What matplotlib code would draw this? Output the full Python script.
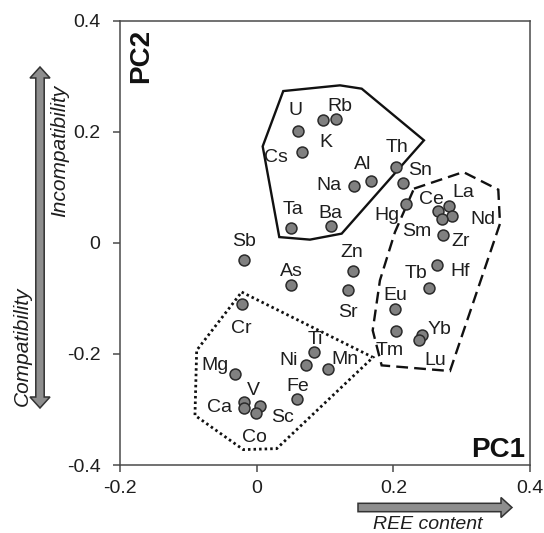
import matplotlib
matplotlib.use("Agg")
import matplotlib.pyplot as plt
from matplotlib.patches import Polygon

plt.rcParams['font.family'] = ['Liberation Sans', 'DejaVu Sans']

# ---------------- data ----------------
elements = ["U", "Rb", "K", "Cs", "Ta", "Ba", "Th", "Al", "Na", "Sn", "Hg",
            "Ce", "La", "Nd", "Sm", "Zr", "Zn", "Sr", "As", "Hf", "Tb", "Eu",
            "Tm", "Yb", "Lu", "Ti", "Ni", "Mn", "Fe", "Sb", "Cr", "Mg", "V",
            "Ca", "Sc", "Co"]
pc1 = [0.0600, 0.1161, 0.0966, 0.0667, 0.0502, 0.1084, 0.2039, 0.1668, 0.1424,
       0.2137, 0.2181, 0.2658, 0.2819, 0.2863, 0.2712, 0.2731, 0.1405, 0.1341,
       0.0505, 0.2643, 0.2526, 0.2024, 0.2034, 0.2415, 0.2375, 0.0841, 0.0717,
       0.1039, 0.0594, -0.0181, -0.0211, -0.0318, -0.0186, -0.0186, 0.0048,
       -0.0015]
pc2 = [0.2013, 0.2236, 0.2206, 0.1635, 0.0266, 0.0297, 0.1365, 0.1113, 0.1023,
       0.1077, 0.0693, 0.0567, 0.0657, 0.0483, 0.0436, 0.0135, -0.0508, -0.0855,
       -0.0751, -0.0400, -0.0807, -0.1185, -0.1588, -0.1665, -0.1743, -0.1972,
       -0.2191, -0.2265, -0.2818, -0.0315, -0.1107, -0.2368, -0.2866, -0.2974,
       -0.2938, -0.3064]

# group outlines (PC1, PC2)
incompatible_x = [0.0389, 0.1219, 0.1537, 0.2448, 0.1244, 0.0780, 0.0331, 0.0088]
incompatible_y = [0.2733, 0.2836, 0.2776, 0.1846, 0.0166, 0.0058, 0.0104, 0.1737]
ree_x = [0.2302, 0.3024, 0.3536, 0.3561, 0.2829, 0.1829, 0.1698, 0.1804, 0.2024]
ree_y = [0.0976, 0.1275, 0.0958, 0.0346, -0.2308, -0.2206, -0.1575, -0.0675, 0.0194]
compatible_x = [-0.0220, 0.1702, 0.0293, -0.0196, -0.0903, -0.0878]
compatible_y = [-0.0886, -0.2062, -0.3705, -0.3723, -0.3106, -0.1936]

ticks = [-0.4, -0.2, 0, 0.2, 0.4]
xticks = [-0.2, 0, 0.2, 0.4]
tick_labels = {-0.4: "-0.4", -0.2: "-0.2", 0: "0", 0.2: "0.2", 0.4: "0.4"}

# label offsets in pixels (centre of label relative to the dot, y up)
label_offsets = {
    "U": (-2, 23), "Rb": (4, 15), "K": (3, -20), "Cs": (-26, -3),
    "Ta": (2, 21), "Ba": (0, 15), "Th": (1, 22), "Al": (-8, 19),
    "Na": (-25, 3), "Sn": (17, 15), "Hg": (-19, -9), "Ce": (-7, 14),
    "La": (14, 16), "Nd": (31, -1), "Sm": (-25, -10), "Zr": (17, -4),
    "Zn": (-1, 21), "Sr": (0, -20), "As": (0, 16), "Hf": (23, -4),
    "Tb": (-13, 17), "Eu": (0, 16), "Tm": (-6, -17), "Yb": (18, 8),
    "Lu": (16, -18), "Ti": (1, 15), "Ni": (-17, 6), "Mn": (17, 12),
    "Fe": (0, 15), "Sb": (0, 21), "Cr": (-1, -22), "Mg": (-20, 11),
    "V": (9, 14), "Ca": (-24, 3), "Sc": (23, -9), "Co": (-1, -22),
}

# ---------------- figure ----------------
W, H = 544, 533
fig = plt.figure(figsize=(W / 100, H / 100), dpi=100)
ax = fig.add_axes([120 / W, 1 - 465 / H, (530 - 120) / W, (465 - 20.7) / H])

spine_col = "#4a4a4a"
text_col = "#1e1e1e"

# outlines
ax.add_patch(Polygon(list(zip(incompatible_x, incompatible_y)), closed=True,
                     fill=False, edgecolor="#111111", lw=1.7, joinstyle="miter"))
ax.add_patch(Polygon(list(zip(ree_x, ree_y)), closed=True, fill=False,
                     edgecolor="#111111", lw=1.7, linestyle=(0, (5.0, 2.6))))
ax.add_patch(Polygon(list(zip(compatible_x, compatible_y)), closed=True,
                     fill=False, edgecolor="#111111", lw=2.0,
                     linestyle=(0, (0.9, 1.1))))

ax.scatter(pc1, pc2, s=62, facecolor="#808080", edgecolor="#2a2a2a",
           linewidth=1.1, zorder=3)

cap_half = 14 * 100 / 72 * 0.716 / 2
for name, x, y in zip(elements, pc1, pc2):
    dx, dy = label_offsets[name]
    ax.annotate(name, (x, y), xytext=(dx, dy - cap_half),
                textcoords="offset pixels", ha="center", va="baseline",
                fontsize=14, color=text_col, zorder=4)

ax.set_xlim(-0.2, 0.4)
ax.set_ylim(-0.4, 0.4)
ax.set_xticks(xticks)
ax.set_xticklabels([tick_labels[t] for t in xticks])
ax.set_yticks(ticks)
ax.set_yticklabels([tick_labels[t] for t in ticks])
for s in ax.spines.values():
    s.set_color(spine_col)
    s.set_linewidth(1.1)
ax.tick_params(axis="both", direction="out", length=5, width=1.1,
               color=spine_col, labelsize=14, labelcolor=text_col)
ax.tick_params(axis="x", pad=5.5)
ax.tick_params(axis="y", pad=9)

# ---------------- decorations in pixel space ----------------
ov = fig.add_axes([0, 0, 1, 1])
ov.set_xlim(0, W)
ov.set_ylim(H, 0)
ov.axis("off")
ov.patch.set_alpha(0)

arrow_fill = "#8e8e8e"
arrow_edge = "#333333"
# vertical double-headed arrow
cx, top, bot = 40, 67, 408
sw, hw, hl = 4.2, 10, 11
vpts = [(cx, top), (cx + hw, top + hl), (cx + sw, top + hl), (cx + sw, bot - hl),
        (cx + hw, bot - hl), (cx, bot), (cx - hw, bot - hl), (cx - sw, bot - hl),
        (cx - sw, top + hl), (cx - hw, top + hl)]
ov.add_patch(Polygon(vpts, closed=True, facecolor=arrow_fill,
                     edgecolor=arrow_edge, lw=1.1))
# horizontal arrow
cy, x0, x1 = 507.5, 358, 512
hpts = [(x0, cy - sw), (x1 - hl, cy - sw), (x1 - hl, cy - hw), (x1, cy),
        (x1 - hl, cy + hw), (x1 - hl, cy + sw), (x0, cy + sw)]
ov.add_patch(Polygon(hpts, closed=True, facecolor=arrow_fill,
                     edgecolor=arrow_edge, lw=1.1))

ov.text(60, 151, "Incompatibility", rotation=90, style="italic", fontsize=15,
        ha="center", va="center", rotation_mode="anchor", color=text_col)
ov.text(22, 346, "Compatibility", rotation=90, style="italic", fontsize=15,
        ha="center", va="center", rotation_mode="anchor", color=text_col)
ov.text(428, 529, "REE content", style="italic", fontsize=14,
        ha="center", va="baseline", color=text_col)
ov.text(148, 55.5, "PC2", rotation=90, fontweight="bold", fontsize=20,
        ha="center", va="baseline", rotation_mode="anchor", color="#111111")
ov.text(525, 456.7, "PC1", fontweight="bold", fontsize=20,
        ha="right", va="baseline", color="#111111")

fig.savefig("out.png", dpi=100)
